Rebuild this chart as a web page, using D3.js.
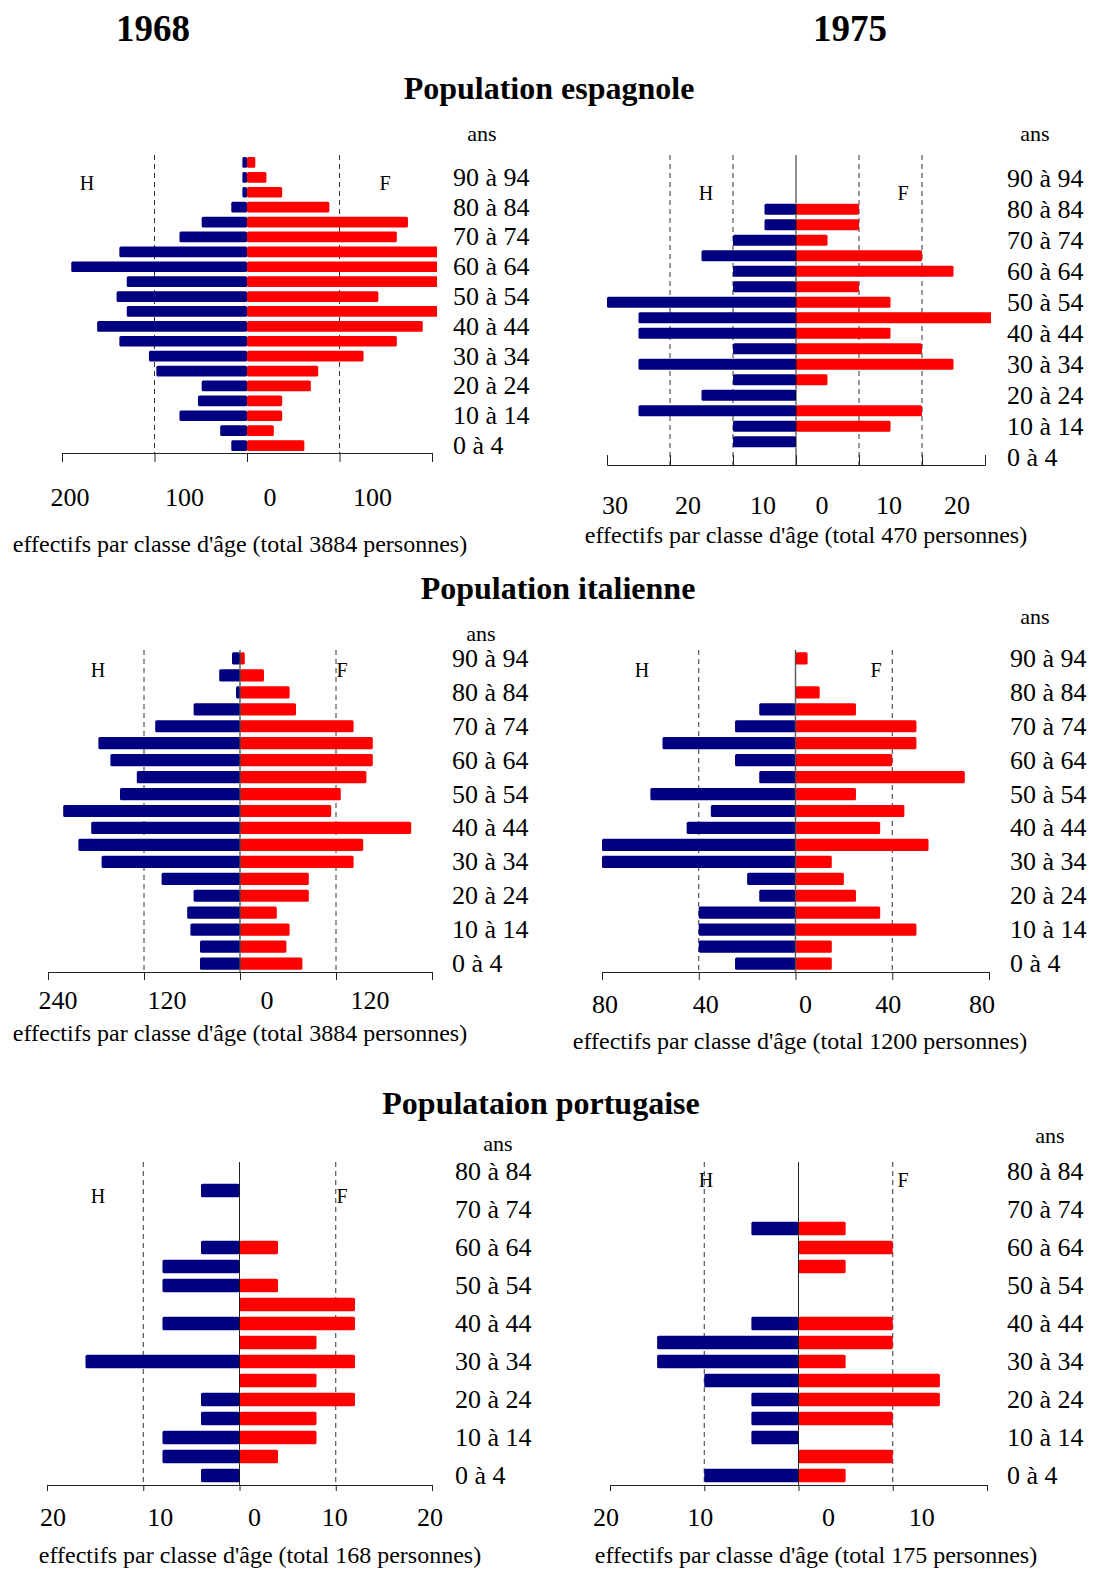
<!DOCTYPE html>
<html><head><meta charset="utf-8">
<script src="https://cdn.jsdelivr.net/npm/d3@7"></script>
<style>
body{margin:0;background:#fff}
svg{display:block}
text{font-family:"Liberation Serif","Times New Roman",serif;fill:#000}
</style>
</head><body>
<svg id="chart" width="1093" height="1571"></svg>
<script>
// ---------- DATA (age groups from 0 à 4 upwards) ----------
const ageGroups = ["0 à 4","5 à 9","10 à 14","15 à 19","20 à 24","25 à 29","30 à 34","35 à 39","40 à 44","45 à 49",
                   "50 à 54","55 à 59","60 à 64","65 à 69","70 à 74","75 à 79","80 à 84","85 à 89","90 à 94","95 à 99"];

const spain1968Men   = [17,29,73,53,49,98,106,138,162,130,141,130,190,138,73,49,17,5,5,5];
const spain1968Women = [62,29,38,38,69,77,126,162,190,212,142,210,225,215,162,174,89,38,21,9];
const spain1975Men   = [0,10,10,25,15,10,25,10,25,25,30,10,10,15,10,5,5,0,0,0];
const spain1975Women = [0,0,15,20,0,5,25,20,15,35,15,10,25,20,5,10,10,0,0,0];

const italy1968Men   = [50,50,62,66,58,98,173,202,186,221,150,129,162,177,106,58,5,26,10];
const italy1968Women = [78,58,62,46,86,86,142,154,214,114,126,158,166,166,142,70,62,30,6];
const italy1975Men   = [25,40,40,40,15,20,80,80,45,35,60,15,25,55,25,15,0,0,0];
const italy1975Women = [15,15,50,35,25,20,15,55,35,45,25,70,40,50,50,25,10,0,5];

const portugal1968Men   = [4,8,8,4,4,0,16,0,8,0,8,8,4,0,0,4,0];
const portugal1968Women = [0,4,8,8,12,8,12,8,12,12,4,0,4,0,0,0,0];
const portugal1975Men   = [10,0,5,5,5,10,15,15,5,0,0,0,0,5,0,0,0];
const portugal1975Women = [5,10,0,10,15,15,5,10,10,0,0,5,10,5,0,0,0];

const spain1968Ticks = [-200,-100,0,100,200];
const spain1968TickLabels = ["200","100","0","100"];
const spain1975Ticks = [-30,-20,-10,0,10,20,30];
const spain1975TickLabels = ["30","20","10","0","10","20"];
const italy1968Ticks = [-240,-120,0,120,240];
const italy1968TickLabels = ["240","120","0","120"];
const italy1975Ticks = [-80,-40,0,40,80];
const italy1975TickLabels = ["80","40","0","40","80"];
const portugal1968Ticks = [-20,-10,0,10,20];
const portugal1968TickLabels = ["20","10","0","10","20"];
const portugal1975Ticks = [-20,-10,0,10,20];
const portugal1975TickLabels = ["20","10","0","10"];

const yearTitles = ["1968","1975"];
const sectionTitles = ["Population espagnole","Population italienne","Populataion portugaise"];
const axisTitles = ["effectifs par classe d'âge (total 3884 personnes)","effectifs par classe d'âge (total 470 personnes)",
                    "effectifs par classe d'âge (total 3884 personnes)","effectifs par classe d'âge (total 1200 personnes)",
                    "effectifs par classe d'âge (total 168 personnes)","effectifs par classe d'âge (total 175 personnes)"];

// ---------- LAYOUT ----------
const panels = [
  {men:spain1968Men, women:spain1968Women, max:200, cx:247, half:185, top:155, axisY:453,
   ticks:spain1968Ticks, labels:spain1968TickLabels, labelDx:[8,30,23,33], labelY:497, tickLen:9,
   grid:[-100,100], center:null, ageX:453, ans:[482,133], H:[87,183], F:[385,183], title:[240,544], clipPad:5},
  {men:spain1975Men, women:spain1975Women, max:30, cx:796, half:189, top:155, axisY:465,
   ticks:spain1975Ticks, labels:spain1975TickLabels, labelDx:[8,18,30,26,30,35], labelY:505, tickLen:-10,
   grid:[-20,-10,10,20], center:{c:"#000",w:1}, ageX:1007, ans:[1035,133], H:[706,193], F:[903,193], title:[806,535], clipPad:6},
  {men:italy1968Men, women:italy1968Women, max:240, cx:240, half:192, top:650, axisY:972,
   ticks:italy1968Ticks, labels:italy1968TickLabels, labelDx:[10,23,27,34], labelY:1000, tickLen:8,
   grid:[-120,120], center:{c:"#444",w:1.5}, ageX:452, ans:[481,633], H:[98,670], F:[342,670], title:[240,1033], clipPad:6},
  {men:italy1975Men, women:italy1975Women, max:80, cx:795.5, half:193.5, top:650, axisY:972,
   ticks:italy1975Ticks, labels:italy1975TickLabels, labelDx:[3,7,10,-4,-7], labelY:1004, tickLen:8,
   grid:[-40,40], center:{c:"#444",w:1.5}, ageX:1010, ans:[1035,616], H:[642,670], F:[876,670], title:[800,1041], clipPad:6},
  {men:portugal1968Men, women:portugal1968Women, max:20, cx:239.5, half:192.5, top:1162, axisY:1485,
   ticks:portugal1968Ticks, labels:portugal1968TickLabels, labelDx:[6,17,15,-1,-2], labelY:1517, tickLen:6,
   grid:[-10,10], center:{c:"#000",w:1}, ageX:455, ans:[498,1143], H:[98,1196], F:[342,1196], title:[260,1555], clipPad:6},
  {men:portugal1975Men, women:portugal1975Women, max:20, cx:798.5, half:188.5, top:1162, axisY:1485,
   ticks:portugal1975Ticks, labels:portugal1975TickLabels, labelDx:[-4,-4,30,29], labelY:1517, tickLen:6,
   grid:[-10,10], center:{c:"#000",w:1}, ageX:1007, ans:[1050,1135], H:[706,1180], F:[903,1180], title:[816,1555], clipPad:6}
];

const svg = d3.select("#chart");
const NAVY = "#000080", RED = "#ff0000";

// Titles
svg.selectAll("text.year").data(yearTitles).join("text")
  .attr("x",(d,i)=>[153,850][i]).attr("y",28).attr("text-anchor","middle").attr("dominant-baseline","central")
  .style("font-size","37px").style("font-weight","bold").text(d=>d);
svg.selectAll("text.section").data(sectionTitles).join("text")
  .attr("x",(d,i)=>[549,558,541][i]).attr("y",(d,i)=>[88,588,1103][i]).attr("text-anchor","middle").attr("dominant-baseline","central")
  .style("font-size","32px").style("font-weight","bold").text(d=>d);

panels.forEach((p,pi)=>{
  const n = p.men.length;
  const ages = ageGroups.slice(0,n);
  const x = d3.scaleLinear().domain([-p.max,p.max]).range([p.cx-p.half,p.cx+p.half]);
  const y = d3.scaleBand().domain(ages.slice().reverse()).range([p.top,p.axisY]).paddingInner(0.28).paddingOuter(0.14);
  const g = svg.append("g");

  // grid dashed lines
  g.selectAll("line.grid").data(p.grid).join("line")
    .attr("x1",d=>x(d)).attr("x2",d=>x(d)).attr("y1",p.top).attr("y2",p.axisY)
    .attr("stroke","#333").attr("stroke-width",1).attr("stroke-dasharray","5,4");

  // clip
  const cid = "clip"+pi;
  svg.append("clipPath").attr("id",cid).append("rect")
    .attr("x",x(-p.max)-p.clipPad).attr("y",p.top-5).attr("width",2*p.half+2*p.clipPad).attr("height",p.axisY-p.top+5);
  const bars = g.append("g").attr("clip-path",`url(#${cid})`);
  const rows = ages.map((a,i)=>({age:a, m:p.men[i], f:p.women[i]}));
  bars.selectAll("rect.m").data(rows.filter(r=>r.m>0)).join("rect")
    .attr("x",d=>x(-d.m)).attr("width",d=>x(0)-x(-d.m)).attr("y",d=>y(d.age)).attr("height",y.bandwidth())
    .attr("rx",1.5).attr("fill",NAVY);
  bars.selectAll("rect.f").data(rows.filter(r=>r.f>0)).join("rect")
    .attr("x",x(0)).attr("width",d=>x(d.f)-x(0)).attr("y",d=>y(d.age)).attr("height",y.bandwidth())
    .attr("rx",1.5).attr("fill",RED);

  // center line
  if(p.center){
    g.append("line").attr("x1",x(0)).attr("x2",x(0)).attr("y1",p.top).attr("y2",p.axisY)
      .attr("stroke",p.center.c).attr("stroke-width",p.center.w).attr("opacity",0.85);
  }

  // axis
  const axis = (p.tickLen>0 ? d3.axisBottom(x) : d3.axisTop(x))
    .tickValues(p.ticks).tickFormat("").tickSize(Math.abs(p.tickLen)).tickSizeOuter(Math.abs(p.tickLen));
  const ax = g.append("g").attr("transform",`translate(0,${p.axisY})`).call(axis);
  ax.selectAll("path,line").attr("stroke","#222").attr("stroke-width",1);

  // tick labels
  g.selectAll("text.tl").data(p.labels).join("text")
    .attr("x",(d,i)=>x(p.ticks[i])+p.labelDx[i]).attr("y",p.labelY)
    .attr("text-anchor","middle").attr("dominant-baseline","central")
    .style("font-size","26px").text(d=>d);

  // age labels
  g.selectAll("text.age").data(ages.filter((a,i)=>i%2===0)).join("text")
    .attr("x",p.ageX).attr("y",d=>y(d)+y.bandwidth()/2).attr("dominant-baseline","central")
    .style("font-size","26px").text(d=>d);

  g.append("text").attr("x",p.ans[0]).attr("y",p.ans[1]).attr("text-anchor","middle").attr("dominant-baseline","central")
    .style("font-size","22px").text("ans");
  g.append("text").attr("x",p.H[0]).attr("y",p.H[1]).attr("text-anchor","middle").attr("dominant-baseline","central")
    .style("font-size","20px").text("H");
  g.append("text").attr("x",p.F[0]).attr("y",p.F[1]).attr("text-anchor","middle").attr("dominant-baseline","central")
    .style("font-size","20px").text("F");

  g.append("text").attr("x",p.title[0]).attr("y",p.title[1]).attr("text-anchor","middle").attr("dominant-baseline","central")
    .style("font-size","24px").text(axisTitles[pi]);
});
</script>
</body></html>
